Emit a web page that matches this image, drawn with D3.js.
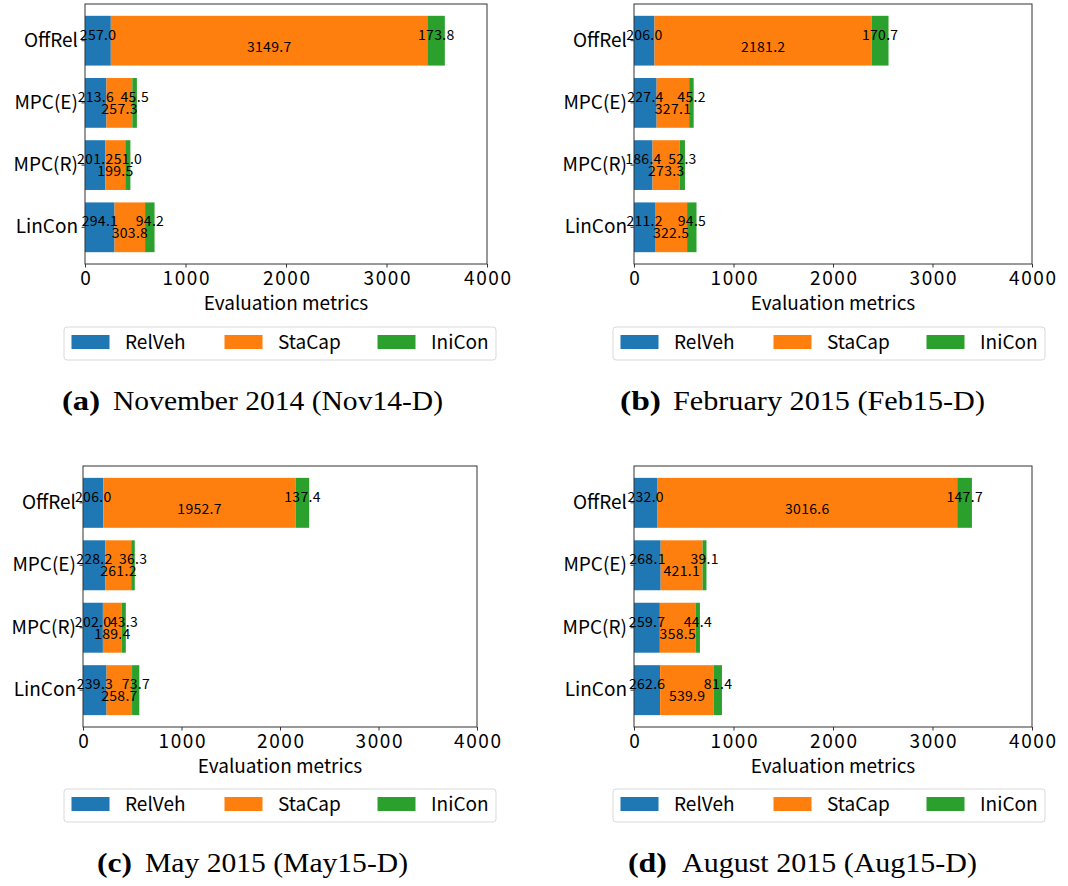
<!DOCTYPE html>
<html>
<head>
<meta charset="utf-8">
<script src="https://cdn.jsdelivr.net/npm/d3@7"></script>
<style>
  html, body { margin: 0; padding: 0; background: #fff; }
  svg { display: block; }
</style>
</head>
<body>
<svg id="chart" width="1068" height="886"></svg>
<script>
// ---------------- data ----------------
const categories = ["OffRel", "MPC(E)", "MPC(R)", "LinCon"];
const seriesNames = ["RelVeh", "StaCap", "IniCon"];
const seriesColors = ["#1f77b4", "#ff7f0e", "#2ca02c"];
const xTickValues = [0, 1000, 2000, 3000, 4000];
const xLabel = "Evaluation metrics";

// Nov14-D
const nov14RelVeh = [257.0, 213.6, 201.2, 294.1];
const nov14StaCap = [3149.7, 257.3, 199.5, 303.8];
const nov14IniCon = [173.8, 45.5, 51.0, 94.2];
// Feb15-D
const feb15RelVeh = [206.0, 227.4, 186.4, 211.2];
const feb15StaCap = [2181.2, 327.1, 273.3, 322.5];
const feb15IniCon = [170.7, 45.2, 52.3, 94.5];
// May15-D
const may15RelVeh = [206.0, 228.2, 202.0, 239.3];
const may15StaCap = [1952.7, 261.2, 189.4, 258.7];
const may15IniCon = [137.4, 36.3, 43.3, 73.7];
// Aug15-D
const aug15RelVeh = [232.0, 268.1, 259.7, 262.6];
const aug15StaCap = [3016.6, 421.1, 358.5, 539.9];
const aug15IniCon = [147.7, 39.1, 44.4, 81.4];

const captionTags = ["(a)", "(b)", "(c)", "(d)"];
const captionTexts = ["November 2014 (Nov14-D)", "February 2015 (Feb15-D)",
                      "May 2015 (May15-D)", "August 2015 (Aug15-D)"];

// ---------------- layout ----------------
const panels = [
  { series: [nov14RelVeh, nov14StaCap, nov14IniCon],
    x0: 85, x1: 487, y0: 4, y1: 264, legX: 64, legY: 327,
    tagX: 62, tagW: 38, txtX: 113, txtW: 330, capY: 410 },
  { series: [feb15RelVeh, feb15StaCap, feb15IniCon],
    x0: 634, x1: 1032, y0: 4, y1: 264, legX: 613, legY: 327,
    tagX: 620, tagW: 41, txtX: 673, txtW: 312, capY: 410 },
  { series: [may15RelVeh, may15StaCap, may15IniCon],
    x0: 83, x1: 477, y0: 466, y1: 727, legX: 64, legY: 789,
    tagX: 97, tagW: 35, txtX: 145, txtW: 263, capY: 872 },
  { series: [aug15RelVeh, aug15StaCap, aug15IniCon],
    x0: 634, x1: 1032, y0: 466, y1: 727, legX: 613, legY: 789,
    tagX: 628, tagW: 39, txtX: 682, txtW: 295, capY: 872 }
];

const FONT = "'Noto Sans CJK JP', 'Noto Sans', sans-serif";
const svg = d3.select("#chart");

panels.forEach((p, pi) => {
  const g = svg.append("g");
  const x = d3.scaleLinear().domain([0, 4000]).range([p.x0, p.x1]);
  const y = d3.scaleBand().domain(categories).range([p.y0, p.y1])
    .paddingInner(0.2).paddingOuter(0.19);

  // stacked data
  const rows = categories.map((c, i) => {
    let acc = 0;
    return p.series.map((s, k) => {
      const seg = { cat: c, k, v: s[i], start: acc, end: acc + s[i] };
      acc += s[i];
      return seg;
    });
  }).flat();

  // bars
  g.selectAll("rect.bar").data(rows).join("rect")
    .attr("class", "bar")
    .attr("x", d => x(d.start))
    .attr("width", d => x(d.end) - x(d.start))
    .attr("y", d => y(d.cat))
    .attr("height", y.bandwidth())
    .attr("fill", d => seriesColors[d.k]);

  // frame
  g.append("rect")
    .attr("x", p.x0).attr("y", p.y0)
    .attr("width", p.x1 - p.x0).attr("height", p.y1 - p.y0)
    .attr("fill", "none").attr("stroke", "#333").attr("stroke-width", 1);

  // x axis
  const xAxis = g.append("g")
    .attr("transform", `translate(0,${p.y1})`)
    .call(d3.axisBottom(x).tickValues(xTickValues).tickFormat(d3.format("d"))
      .tickSize(3.5).tickPadding(3.5));
  xAxis.select(".domain").remove();
  xAxis.selectAll("line").attr("stroke", "#333");
  xAxis.selectAll("text").attr("font-family", FONT).attr("font-size", 19)
    .attr("letter-spacing", "1.6px").attr("dx", 0.8)
    .attr("fill", "#000");

  // y axis
  const yAxis = g.append("g")
    .attr("transform", `translate(${p.x0},0)`)
    .call(d3.axisLeft(y).tickSize(3.5).tickPadding(3.5));
  yAxis.select(".domain").remove();
  yAxis.selectAll("line").attr("stroke", "#333");
  yAxis.selectAll("text").attr("font-family", FONT).attr("font-size", 19)
    .attr("fill", "#000");

  // x label
  g.append("text")
    .attr("x", (p.x0 + p.x1) / 2).attr("y", p.y1 + 46)
    .attr("text-anchor", "middle")
    .attr("font-family", FONT).attr("font-size", 19)
    .text(xLabel);

  // value labels
  g.selectAll("text.val").data(rows).join("text")
    .attr("class", "val")
    .attr("x", d => x((d.start + d.end) / 2))
    .attr("y", d => y(d.cat) + y.bandwidth() / 2 + (d.k === 1 ? 5 : -7))
    .attr("dominant-baseline", "central")
    .attr("text-anchor", "middle")
    .attr("font-family", FONT).attr("font-size", 14)
    .attr("letter-spacing", "0.3px").attr("dx", 0.15)
    .attr("fill", "#000")
    .text(d => d.v.toFixed(1));

  // legend
  const leg = g.append("g").attr("transform", `translate(${p.legX},${p.legY})`);
  leg.append("rect").attr("x", 0).attr("y", 0).attr("width", 432).attr("height", 33)
    .attr("rx", 3).attr("fill", "#fff").attr("stroke", "#d9d9d9").attr("stroke-width", 1);
  const offsets = [0, 153, 306];
  seriesNames.forEach((name, k) => {
    leg.append("rect").attr("x", 7.5 + offsets[k]).attr("y", 8)
      .attr("width", 38).attr("height", 14).attr("fill", seriesColors[k]);
    leg.append("text").attr("x", 61 + offsets[k]).attr("y", 22)
      .attr("font-family", FONT).attr("font-size", 19).attr("fill", "#000")
      .text(name);
  });

  // caption
  g.append("text").attr("x", p.tagX).attr("y", p.capY)
    .attr("font-family", "'Liberation Serif', serif").attr("font-weight", "bold")
    .attr("font-size", 28).attr("textLength", p.tagW)
    .attr("lengthAdjust", "spacingAndGlyphs")
    .text(captionTags[pi]);
  g.append("text").attr("x", p.txtX).attr("y", p.capY)
    .attr("font-family", "'Liberation Serif', serif")
    .attr("font-size", 28).attr("textLength", p.txtW)
    .attr("lengthAdjust", "spacingAndGlyphs")
    .text(captionTexts[pi]);
});
</script>
</body>
</html>
